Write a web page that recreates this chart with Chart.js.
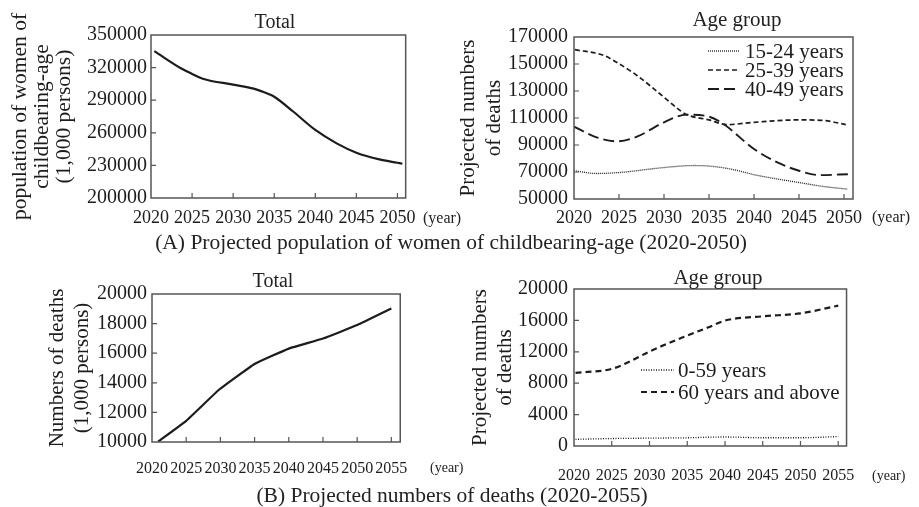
<!DOCTYPE html>
<html>
<head>
<meta charset="utf-8">
<script src="https://cdn.jsdelivr.net/npm/chart.js@4.4.1/dist/chart.umd.min.js"></script>
<style>
  html, body { margin: 0; padding: 0; background: #fff; }
  body { width: 919px; height: 507px; position: relative; overflow: hidden;
         font-family: "Liberation Serif", "Times New Roman", serif; color: #222; }
  canvas { position: absolute; }
  .lbl { position: absolute; white-space: nowrap; transform: translate(-50%, -50%); line-height: 1; }
  .yr { position: absolute; white-space: nowrap; transform: translateY(-50%); line-height: 1; }
</style>
</head>
<body>
<canvas id="aTotal"></canvas>
<canvas id="aAge"></canvas>
<canvas id="bTotal"></canvas>
<canvas id="bAge"></canvas>

<div class="lbl" style="left:275px;top:21px;font-size:20px">Total</div>
<div class="lbl" style="left:737px;top:19px;font-size:21px">Age group</div>
<div class="lbl" style="left:273px;top:280px;font-size:20px">Total</div>
<div class="lbl" style="left:718px;top:277px;font-size:21px">Age group</div>

<div class="yr" style="left:423px;top:218px;font-size:16px">(year)</div>
<div class="yr" style="left:872px;top:217px;font-size:16px">(year)</div>
<div class="yr" style="left:430px;top:468px;font-size:14px">(year)</div>
<div class="yr" style="left:872px;top:476px;font-size:14px">(year)</div>

<div class="lbl" style="left:451px;top:243px;font-size:21.5px">(A) Projected population of women of childbearing-age (2020-2050)</div>
<div class="lbl" style="left:452px;top:496px;font-size:21.5px">(B) Projected numbers of deaths (2020-2055)</div>

<script>
// tick labels
const yearTicksA = [2020, 2025, 2030, 2035, 2040, 2045, 2050];
const yearTicksB = [2020, 2025, 2030, 2035, 2040, 2045, 2050, 2055];
const womenTicks = [200000, 230000, 260000, 290000, 320000, 350000];
const womenAgeTicks = [50000, 70000, 90000, 110000, 130000, 150000, 170000];
const deathTicks = [10000, 12000, 14000, 16000, 18000, 20000];
const deathAgeTicks = [0, 4000, 8000, 12000, 16000, 20000];

// (A) women of childbearing age, total
const womenYears = [2020.4, 2023.7, 2025, 2026.3, 2030, 2032.5, 2034.3, 2035, 2037.3, 2040, 2042.6, 2045, 2047.8, 2050, 2050.6];
const womenTotal = [335200, 319100, 314200, 309800, 304300, 300600, 295700, 293200, 279600, 262600, 250300, 241700, 235500, 232400, 231500];

// (A) by age group
const age15Years = [2020, 2022.5, 2025, 2030, 2033.3, 2035, 2037.4, 2040, 2045, 2047.8, 2050.4];
const age15 = [70900, 68900, 69600, 73300, 74800, 74400, 72200, 68000, 62200, 59200, 57300];
const age25Years = [2020.1, 2023.3, 2025, 2027, 2030, 2031.8, 2032.5, 2035, 2037, 2040, 2045, 2047.8, 2050.2];
const age25 = [160600, 156400, 150200, 141500, 125400, 115500, 112500, 108600, 105100, 106800, 108600, 108100, 105100];
const age40Years = [2020, 2022.5, 2024.8, 2027, 2030, 2032.5, 2035, 2036.6, 2040, 2042.6, 2045, 2047.4, 2050.5];
const age40 = [103600, 95700, 92700, 96200, 106800, 112500, 111000, 105600, 87000, 77100, 70900, 67700, 68400];

// (B) deaths, total
const deathYears = [2020.9, 2025, 2029.8, 2035, 2040, 2045, 2050, 2055];
const deathTotal = [10030, 11430, 13530, 15270, 16310, 16990, 17900, 19020];

// (B) by age group
const young059Years = [2020.2, 2025, 2030, 2035, 2040, 2045, 2050, 2055];
const young059 = [850, 950, 1000, 1050, 1150, 1050, 1050, 1200];
const old60Years = [2020.2, 2025, 2027.4, 2030, 2035, 2037.8, 2040, 2045, 2050, 2055];
const old60 = [9320, 9820, 10770, 12040, 14070, 15120, 15980, 16520, 16900, 17880];

const pts = (xs, ys) => xs.map((x, i) => ({ x: x, y: ys[i] }));
const INK = '#1c1c1c';
const FRAME = '#555';
const FAMILY = '"Liberation Serif", "Times New Roman", serif';

// box around plot area + short ticks pointing inward
const framePlugin = {
  id: 'frame',
  afterDatasetsDraw(chart) {
    const { ctx, chartArea: a, scales } = chart;
    ctx.save();
    ctx.strokeStyle = FRAME;
    ctx.lineWidth = 1.5;
    ctx.strokeRect(a.left, a.top, a.right - a.left, a.bottom - a.top);
    ctx.lineWidth = 1.2;
    ctx.beginPath();
    scales.x.ticks.forEach(t => {
      const px = scales.x.getPixelForValue(t.value);
      if (px <= a.left + 1 || px >= a.right - 1) return;
      ctx.moveTo(px, a.bottom);
      ctx.lineTo(px, a.bottom - 5);
    });
    scales.y.ticks.forEach(t => {
      const py = scales.y.getPixelForValue(t.value);
      if (py <= a.top + 1 || py >= a.bottom - 1) return;
      ctx.moveTo(a.left, py);
      ctx.lineTo(a.left + 5, py);
    });
    ctx.stroke();
    ctx.restore();
  }
};

// legend drawn inside the plot area
const insideLegend = {
  id: 'insideLegend',
  afterDraw(chart, args, opts) {
    if (!opts || opts.x === undefined) return;
    const ctx = chart.ctx;
    ctx.save();
    ctx.font = opts.size + 'px ' + FAMILY;
    ctx.textBaseline = 'middle';
    chart.data.datasets.forEach((ds, i) => {
      const y = opts.y + i * opts.row;
      ctx.beginPath();
      ctx.setLineDash(ds.borderDash || []);
      ctx.lineWidth = ds.borderWidth;
      ctx.strokeStyle = ds.borderColor;
      ctx.moveTo(opts.x, y);
      ctx.lineTo(opts.x + opts.sample, y);
      ctx.stroke();
      ctx.setLineDash([]);
      ctx.fillStyle = INK;
      ctx.fillText(ds.label, opts.x + opts.sample + opts.gap, y + 1);
    });
    ctx.restore();
  }
};

function makeChart(id, box, area, cfg) {
  const c = document.getElementById(id);
  c.width = box.w;
  c.height = box.h;
  c.style.left = box.x + 'px';
  c.style.top = box.y + 'px';
  const legend = cfg.legend
    ? Object.assign({}, cfg.legend, { x: cfg.legend.x - box.x, y: cfg.legend.y - box.y })
    : {};
  return new Chart(c, {
    type: 'line',
    data: { datasets: cfg.datasets },
    options: {
      responsive: false,
      animation: false,
      layout: { padding: { top: area.top - box.y, right: box.x + box.w - area.right, left: 0, bottom: 0 } },
      elements: { point: { radius: 0 } },
      plugins: {
        legend: { display: false },
        tooltip: { enabled: false },
        insideLegend: legend
      },
      scales: {
        x: {
          type: 'linear',
          min: cfg.xMin,
          max: cfg.xMax,
          grid: { display: false, drawTicks: false },
          border: { display: false },
          afterFit: s => { s.height = box.y + box.h - area.bottom; },
          afterBuildTicks: s => { s.ticks = cfg.xTicks.map(v => ({ value: v })); },
          ticks: {
            autoSkip: false, maxRotation: 0, color: INK, padding: cfg.xPad,
            font: { family: FAMILY, size: cfg.xFont },
            callback: v => String(v)
          }
        },
        y: {
          min: cfg.yTicks[0],
          max: cfg.yTicks[cfg.yTicks.length - 1],
          grid: { display: false, drawTicks: false },
          border: { display: false },
          afterFit: s => { s.width = area.left - box.x; },
          afterBuildTicks: s => { s.ticks = cfg.yTicks.map(v => ({ value: v })); },
          ticks: {
            color: INK, padding: cfg.yPad,
            font: { family: FAMILY, size: 20 },
            callback: v => String(v)
          },
          title: {
            display: true,
            text: cfg.yTitle,
            color: INK,
            font: { family: FAMILY, size: cfg.titleSize, lineHeight: cfg.titleLH / cfg.titleSize },
            padding: { top: cfg.titleX - box.x - cfg.titleLH / 2, bottom: 0 }
          }
        }
      }
    },
    plugins: [framePlugin, insideLegend]
  });
}

makeChart('aTotal',
  { x: 0, y: 0, w: 425, h: 240 },
  { left: 151, top: 35, right: 408, bottom: 198 },
  {
    xMin: 2020, xMax: 2051, xTicks: yearTicksA, xFont: 18, xPad: 9,
    yTicks: womenTicks, yPad: 4,
    yTitle: ['population of women of', 'childbearing-age', '(1,000 persons)'],
    titleX: 20, titleLH: 22, titleSize: 21.5,
    datasets: [{
      label: 'Total', data: pts(womenYears, womenTotal),
      borderColor: INK, borderWidth: 2.2, cubicInterpolationMode: 'monotone'
    }]
  });

makeChart('aAge',
  { x: 455, y: 0, w: 420, h: 240 },
  { left: 574, top: 37, right: 853, bottom: 199 },
  {
    xMin: 2020, xMax: 2051, xTicks: yearTicksA, xFont: 18, xPad: 8,
    yTicks: womenAgeTicks, yPad: 6,
    yTitle: ['Projected numbers', 'of deaths'],
    titleX: 468, titleLH: 26, titleSize: 21,
    legend: { x: 708, y: 51, row: 19, sample: 32, gap: 5, size: 21 },
    datasets: [
      { label: '15-24 years', data: pts(age15Years, age15), borderColor: INK, borderWidth: 1.3,
        borderDash: [1, 1], cubicInterpolationMode: 'monotone' },
      { label: '25-39 years', data: pts(age25Years, age25), borderColor: INK, borderWidth: 1.7,
        borderDash: [5, 3], cubicInterpolationMode: 'monotone' },
      { label: '40-49 years', data: pts(age40Years, age40), borderColor: INK, borderWidth: 1.9,
        borderDash: [11, 5], cubicInterpolationMode: 'monotone' }
    ]
  });

makeChart('bTotal',
  { x: 0, y: 255, w: 425, h: 235 },
  { left: 152, top: 294, right: 407, bottom: 442 },
  {
    xMin: 2020, xMax: 2056.3, xTicks: yearTicksB, xFont: 16, xPad: 17,
    yTicks: deathTicks, yPad: 5,
    yTitle: ['Numbers of deaths', '(1,000 persons)'],
    titleX: 57, titleLH: 25, titleSize: 21,
    datasets: [{
      label: 'Total', data: pts(deathYears, deathTotal),
      borderColor: INK, borderWidth: 2.2, tension: 0.1
    }]
  });

makeChart('bAge',
  { x: 455, y: 255, w: 420, h: 240 },
  { left: 574, top: 289, right: 850, bottom: 446 },
  {
    xMin: 2020, xMax: 2056.1, xTicks: yearTicksB, xFont: 16, xPad: 20,
    yTicks: deathAgeTicks, yPad: 6,
    yTitle: ['Projected numbers', 'of deaths'],
    titleX: 480, titleLH: 25, titleSize: 21,
    legend: { x: 641, y: 370, row: 22, sample: 33, gap: 4, size: 21 },
    datasets: [
      { label: '0-59 years', data: pts(young059Years, young059), borderColor: INK, borderWidth: 1.3,
        borderDash: [1, 1.5], cubicInterpolationMode: 'monotone' },
      { label: '60 years and above', data: pts(old60Years, old60), borderColor: INK, borderWidth: 2.2,
        borderDash: [6, 4], cubicInterpolationMode: 'monotone' }
    ]
  });
</script>
</body>
</html>
